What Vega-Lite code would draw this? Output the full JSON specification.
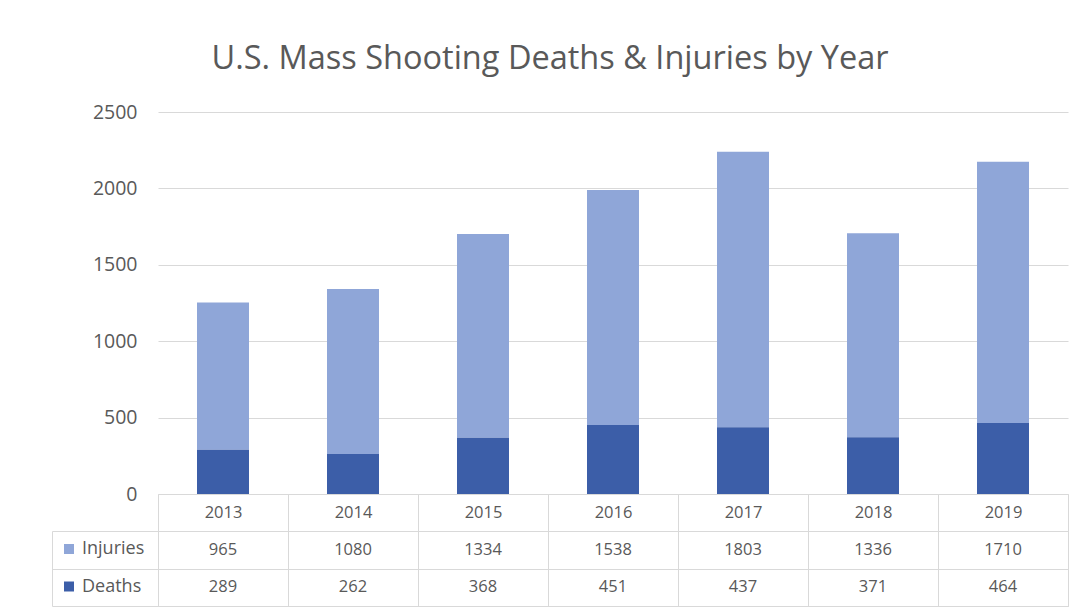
{
  "$schema": "https://vega.github.io/schema/vega-lite/v6.json",
  "autosize": {"type": "pad"},
  "padding": {"left": 51, "top": 42, "right": 5, "bottom": 5},
  "background": "white",
  "bounds": "flush",
  "spacing": 37,
  "title": {
    "text": "U.S. Mass Shooting Deaths & Injuries by Year",
    "font": "Open Sans",
    "fontSize": 32.5,
    "fontWeight": "normal",
    "color": "#595959",
    "anchor": "middle",
    "frame": "bounds",
    "dx": -10,
    "offset": 27
  },
  "data": {
    "values": [
      {"year": "2013", "series": "Injuries", "value": 965},
      {"year": "2013", "series": "Deaths", "value": 289},
      {"year": "2014", "series": "Injuries", "value": 1080},
      {"year": "2014", "series": "Deaths", "value": 262},
      {"year": "2015", "series": "Injuries", "value": 1334},
      {"year": "2015", "series": "Deaths", "value": 368},
      {"year": "2016", "series": "Injuries", "value": 1538},
      {"year": "2016", "series": "Deaths", "value": 451},
      {"year": "2017", "series": "Injuries", "value": 1803},
      {"year": "2017", "series": "Deaths", "value": 437},
      {"year": "2018", "series": "Injuries", "value": 1336},
      {"year": "2018", "series": "Deaths", "value": 371},
      {"year": "2019", "series": "Injuries", "value": 1710},
      {"year": "2019", "series": "Deaths", "value": 464}
    ]
  },
  "config": {
    "font": "Open Sans",
    "axis": {"labelFont": "Open Sans", "labelColor": "#595959", "labelFontSize": 16.5}
  },
  "vconcat": [
    {
      "width": 910,
      "height": 382,
      "view": {"stroke": null},
      "mark": {"type": "bar"},
      "encoding": {
        "x": {
          "field": "year",
          "type": "nominal",
          "scale": {"paddingInner": 0.6, "paddingOuter": 0.3},
          "axis": {"title": null, "labels": false, "ticks": false, "domain": true, "domainColor": "#d9d9d9", "grid": false}
        },
        "y": {
          "field": "value",
          "type": "quantitative",
          "stack": "zero",
          "scale": {"domain": [0, 2500], "nice": false},
          "axis": {
            "title": null,
            "values": [0, 500, 1000, 1500, 2000, 2500],
            "format": "d",
            "domain": false,
            "ticks": false,
            "labelFontSize": 19.5,
            "labelPadding": 21,
            "gridColor": "#d9d9d9"
          }
        },
        "color": {
          "field": "series",
          "type": "nominal",
          "scale": {"domain": ["Injuries", "Deaths"], "range": ["#8fa6d8", "#3c5ea8"]},
          "legend": {
            "orient": "none",
            "legendX": -98,
            "legendY": 428,
            "title": null,
            "symbolType": "square",
            "symbolSize": 100,
            "symbolStrokeWidth": 0,
            "labelFontSize": 18,
            "labelFont": "Open Sans",
            "labelColor": "#595959",
            "labelOffset": 4,
            "rowPadding": 19.5,
            "padding": 0
          }
        },
        "order": {"field": "series", "sort": "ascending"}
      }
    },
    {
      "width": 910,
      "height": 75,
      "view": {"stroke": "#d9d9d9"},
      "mark": {"type": "text", "fontSize": 16.5, "font": "Open Sans", "color": "#595959"},
      "encoding": {
        "x": {
          "field": "year",
          "type": "nominal",
          "scale": {"paddingInner": 0, "paddingOuter": 0},
          "axis": {
            "orient": "top",
            "title": null,
            "labelAngle": 0,
            "tickBand": "extent",
            "tickSize": 37,
            "tickColor": "#d9d9d9",
            "labelPadding": -26,
            "domainColor": "#d9d9d9",
            "grid": true,
            "gridColor": "#d9d9d9"
          }
        },
        "y": {
          "field": "series",
          "type": "nominal",
          "scale": {"domain": ["Injuries", "Deaths"], "paddingInner": 0, "paddingOuter": 0},
          "axis": {
            "title": null,
            "labels": false,
            "offset": 106,
            "tickBand": "extent",
            "tickSize": -106,
            "tickColor": "#d9d9d9",
            "domainColor": "#d9d9d9",
            "grid": true,
            "gridColor": "#d9d9d9"
          }
        },
        "text": {"field": "value", "type": "quantitative"}
      }
    }
  ]
}
